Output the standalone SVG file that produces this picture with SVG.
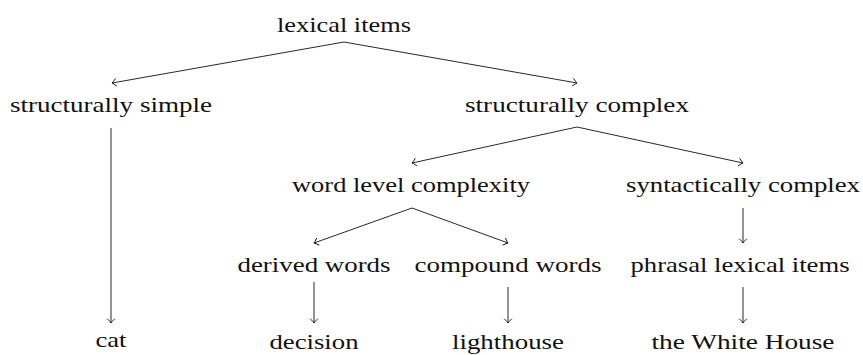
<svg xmlns="http://www.w3.org/2000/svg" width="863" height="355" viewBox="0 0 863 355">
<style>
text { font-family: "Liberation Serif", "DejaVu Serif", serif; font-size: 22px; fill: #111; text-anchor: middle; }
.c line { stroke: #111; stroke-width: 0.9; fill: none; marker-end: url(#to); }
</style>
<defs>
<marker id="to" markerUnits="userSpaceOnUse" viewBox="-6 -5 8 10" refX="0" refY="0" markerWidth="8" markerHeight="10" orient="auto" overflow="visible">
<path d="M -4 -3.6 Q -1.2 -0.6 0 0 Q -1.2 0.6 -4 3.6" fill="none" stroke="#111" stroke-width="0.9" stroke-linecap="round"/>
</marker>
</defs>
<rect width="863" height="355" fill="#fff"/>
<g class="c" id="connectors">
<line x1="344" y1="42" x2="112" y2="83"/>
<line x1="344" y1="42" x2="577" y2="83"/>
<line x1="111" y1="128" x2="111" y2="323"/>
<line x1="577" y1="127" x2="412" y2="163"/>
<line x1="577" y1="127" x2="743" y2="163"/>
<line x1="412" y1="208" x2="314" y2="243"/>
<line x1="412" y1="208" x2="508" y2="243"/>
<line x1="743" y1="208" x2="743" y2="243"/>
<line x1="314" y1="282" x2="314" y2="323"/>
<line x1="508" y1="287" x2="508" y2="323"/>
<line x1="743" y1="287" x2="743" y2="323"/>
</g>
<g id="n-lexical"><text x="344" y="32" textLength="134" lengthAdjust="spacingAndGlyphs">lexical items</text></g>
<g id="n-simple"><text x="111" y="112" textLength="202" lengthAdjust="spacingAndGlyphs">structurally simple</text></g>
<g id="n-complex"><text x="577" y="112" textLength="224" lengthAdjust="spacingAndGlyphs">structurally complex</text></g>
<g id="n-word"><text x="411" y="192" textLength="238" lengthAdjust="spacingAndGlyphs">word level complexity</text></g>
<g id="n-synt"><text x="743" y="192" textLength="234" lengthAdjust="spacingAndGlyphs">syntactically complex</text></g>
<g id="n-derived"><text x="314" y="272" textLength="153" lengthAdjust="spacingAndGlyphs">derived words</text></g>
<g id="n-compound"><text x="508" y="272" textLength="187" lengthAdjust="spacingAndGlyphs">compound words</text></g>
<g id="n-phrasal"><text x="740" y="272" textLength="219" lengthAdjust="spacingAndGlyphs">phrasal lexical items</text></g>
<g id="n-cat"><text x="111" y="347" textLength="31" lengthAdjust="spacingAndGlyphs">cat</text></g>
<g id="n-decision"><text x="314" y="349" textLength="89" lengthAdjust="spacingAndGlyphs">decision</text></g>
<g id="n-lighthouse"><text x="508" y="349" textLength="112" lengthAdjust="spacingAndGlyphs">lighthouse</text></g>
<g id="n-white"><text x="743" y="349" textLength="183" lengthAdjust="spacingAndGlyphs">the White House</text></g>
</svg>
